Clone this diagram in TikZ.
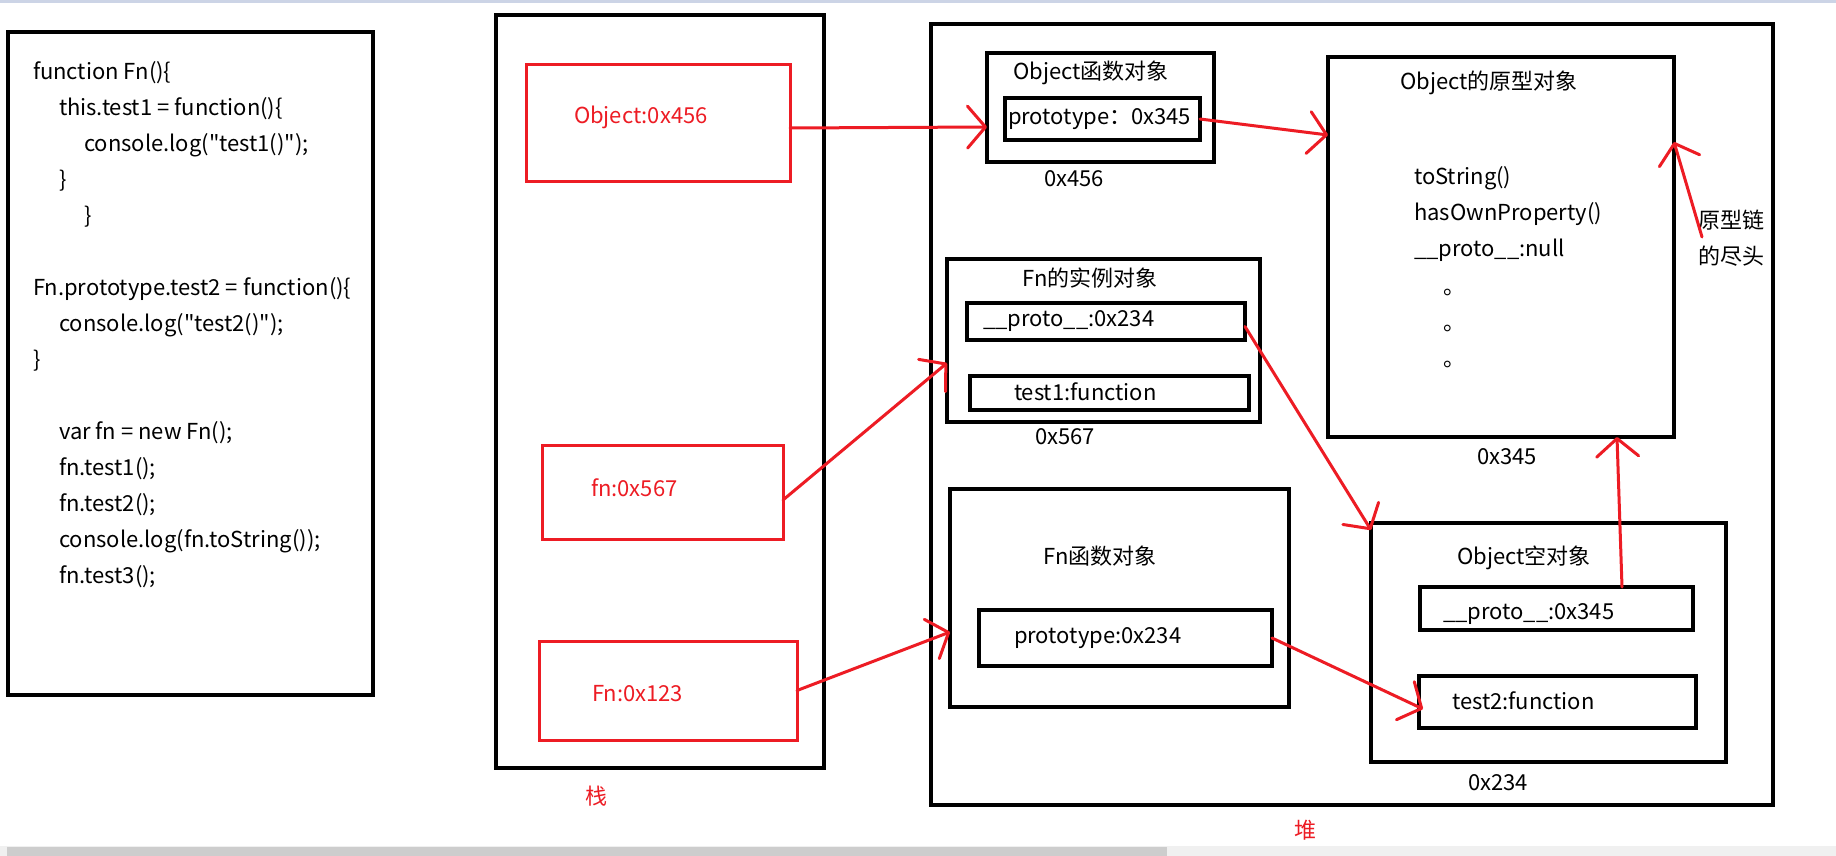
\documentclass[tikz,border=0pt]{standalone}
\usepackage{fontspec}
\setmainfont{Noto Sans CJK SC}[Ligatures=TeXOff]
\usetikzlibrary{arrows.meta,calc}
\definecolor{pred}{RGB}{237,28,36}
\definecolor{topbar}{RGB}{204,212,230}
\definecolor{track}{RGB}{240,240,240}
\definecolor{thumb}{RGB}{205,205,205}
\begin{document}
\begin{tikzpicture}[x=1pt,y=-1pt,
  bbox/.style={draw=black,line width=3.5pt,inner sep=0pt,outer sep=0pt,anchor=north west},
  rbox/.style={draw=pred,line width=3pt,inner sep=0pt,outer sep=0pt,anchor=north west},
  txt/.style={inner sep=0pt,outer sep=0pt,font=\fontsize{22}{26}\selectfont,text height=17pt,text depth=4pt},
  ltxt/.style={txt,anchor=west},
  ctxt/.style={txt,anchor=center},
  rtxt/.style={txt,anchor=west,text=pred},
  rarrow/.style={draw=pred,line width=3pt,line cap=round,-{Straight Barb[length=18pt,width=42pt,round]}},
]
\useasboundingbox (0,0) rectangle (1836,856);
\fill[white] (0,0) rectangle (1836,856);
% window chrome
\fill[topbar] (0,0) rectangle (1836,3);
\fill[track] (0,846) rectangle (1836,856);
\fill[thumb] (7,847) rectangle (1167,856);

% code box
\node[bbox,minimum width=365pt,minimum height=663pt] (code) at (8,32) {};
\node[ltxt] (c1) at (33,73) {function Fn()\{};
\node[ltxt] (c2) at (59,109) {this.test1 = function()\{};
\node[ltxt] (c3) at (84,145) {console.log("test1()");};
\node[ltxt] (c4) at (59,181) {\}};
\node[ltxt] (c5) at (84,217) {\}};
\node[ltxt] (c6) at (33,289) {Fn.prototype.test2 = function()\{};
\node[ltxt] (c7) at (59,325) {console.log("test2()");};
\node[ltxt] (c8) at (33,361) {\}};
\node[ltxt] (c9) at (59,433) {var fn = new Fn();};
\node[ltxt] (c10) at (59,469) {fn.test1();};
\node[ltxt] (c11) at (59,505) {fn.test2();};
\node[ltxt] (c12) at (59,541) {console.log(fn.toString());};
\node[ltxt] (c13) at (59,577) {fn.test3();};

% stack
\node[bbox,minimum width=328pt,minimum height=753pt] (stack) at (496,15) {};
\node[rbox,minimum width=264pt,minimum height=116pt] (obj456) at (526,65) {};
\node[rtxt] (tobj456) at (574,117) {Object:0x456};
\node[rbox,minimum width=241pt,minimum height=94pt] (fn567) at (542,445) {};
\node[rtxt] (tfn567) at (591,490) {fn:0x567};
\node[rbox,minimum width=258pt,minimum height=99pt] (Fn123) at (539,641) {};
\node[rtxt] (tFn123) at (592,695) {Fn:0x123};
\node[ctxt,text=pred] (stacklbl) at (596,798) {栈};

% heap
\node[bbox,minimum width=842pt,minimum height=781pt] (heap) at (931,24) {};
\node[ctxt,text=pred] (heaplbl) at (1305,832) {堆};

% Object function object
\node[bbox,minimum width=227pt,minimum height=109pt] (objfn) at (987,53) {};
\node[ctxt] (tobjfn) at (1091,73) {Object函数对象};
\node[bbox,minimum width=195pt,minimum height=42pt] (objfnproto) at (1005,98) {};
\node[ltxt] (tobjfnproto) at (1008,118) {prototype：0x345};
\node[ctxt] (a456) at (1074,180) {0x456};

% Object prototype object
\node[bbox,minimum width=346pt,minimum height=380pt] (objproto) at (1328,57) {};
\node[ctxt] (tobjproto) at (1489,83) {Object的原型对象};
\node[ltxt] (p1) at (1414,178) {toString()};
\node[ltxt] (p2) at (1414,214) {hasOwnProperty()};
\node[ltxt] (p3) at (1414,250) {\_\_proto\_\_:null};
\node[ltxt] (d1) at (1443,288) {。};
\node[ltxt] (d2) at (1443,324) {。};
\node[ltxt] (d3) at (1443,360) {。};
\node[ctxt] (a345) at (1507,458) {0x345};
\node[ltxt] (chain1) at (1698,222) {原型链};
\node[ltxt] (chain2) at (1698,258) {的尽头};

% Fn instance
\node[bbox,minimum width=313pt,minimum height=163pt] (inst) at (947,259) {};
\node[ctxt] (tinst) at (1090,280) {Fn的实例对象};
\node[bbox,minimum width=278pt,minimum height=37pt] (instproto) at (967,303) {};
\node[ltxt] (tinstproto) at (983,320) {\_\_proto\_\_:0x234};
\node[bbox,minimum width=279pt,minimum height=34pt] (insttest1) at (970,376) {};
\node[ltxt] (tinsttest1) at (1014,394) {test1:function};
\node[ctxt] (a567) at (1065,438) {0x567};

% Fn function object
\node[bbox,minimum width=339pt,minimum height=218pt] (fnfn) at (950,489) {};
\node[ctxt] (tfnfn) at (1100,558) {Fn函数对象};
\node[bbox,minimum width=293pt,minimum height=56pt] (fnproto) at (979,610) {};
\node[ltxt] (tfnproto) at (1014,637) {prototype:0x234};

% Object empty object
\node[bbox,minimum width=355pt,minimum height=239pt] (empty) at (1371,523) {};
\node[ctxt] (tempty) at (1524,558) {Object空对象};
\node[bbox,minimum width=273pt,minimum height=43pt] (emptyproto) at (1420,587) {};
\node[ltxt] (temptyproto) at (1443,613) {\_\_proto\_\_:0x345};
\node[bbox,minimum width=277pt,minimum height=52pt] (emptytest2) at (1419,676) {};
\node[ltxt] (temptytest2) at (1452,703) {test2:function};
\node[ctxt] (a234) at (1498,784) {0x234};

% connectors
\draw[rarrow] ([yshift=-5pt]obj456.east) -- ([yshift=-19.5pt]objfn.west);
\draw[rarrow] (objfnproto.east) -- ([yshift=-78pt]objproto.north west);
\draw[rarrow] ([yshift=-8pt]fn567.east) -- ([yshift=-22.5pt]inst.west);
\draw[rarrow] (Fn123.east) -- ([yshift=-34pt]fnfn.west);
\draw[rarrow] ([yshift=-5pt]instproto.east) -- ([yshift=-7pt]empty.north west);
\draw[rarrow] (fnproto.east) -- ([shift={(4pt,-7pt)}]emptytest2.west);
\draw[rarrow] ([xshift=65.5pt]emptyproto.north) -- ([xshift=116pt]objproto.south);
\draw[rarrow] ([shift={(4pt,-15pt)}]chain1.west) -- ([yshift=-85pt]objproto.north east);
\end{tikzpicture}
\end{document}
